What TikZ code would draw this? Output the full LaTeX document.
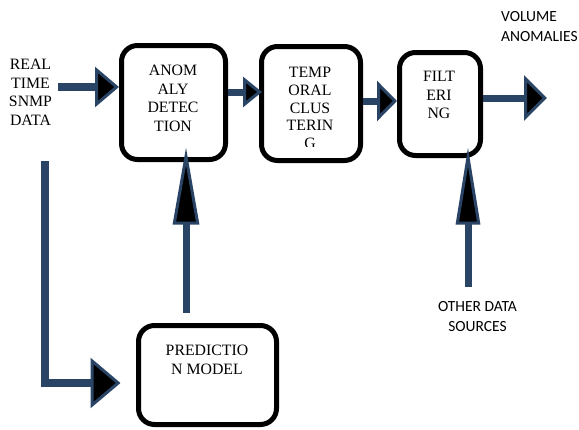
\documentclass[tikz,border=0pt]{standalone}
\usepackage{fontspec}
\setmainfont{Liberation Serif}
\newfontfamily\calfont{Carlito}
\usetikzlibrary{arrows.meta}
\definecolor{navy}{HTML}{2A4466}
\begin{document}
\begin{tikzpicture}[x=1pt,y=-1pt,
  box/.style={draw=black, line width=5pt, rounded corners=16pt, fill=white, inner sep=0pt},
  lbl/.style={font=\fontsize{15.8}{18.5}\selectfont, align=center, inner sep=0pt, anchor=north},
  slbl/.style={font=\calfont\fontsize{15.5}{20}\selectfont, inner sep=0pt},
  conn/.style n args={3}{draw=navy, line width=#1,
     -{Triangle[length=#2, width=#3, fill=black, line width=3pt 0 0]}}]
\useasboundingbox (0,0) rectangle (579,429);

% boxes
\node[box, minimum width=104pt, minimum height=114pt] (anom) at (173.5,102.5) {};
\node[box, minimum width=99pt,  minimum height=114pt] (temp) at (311,103.5) {};
\node[box, minimum width=81pt,  minimum height=103pt] (filt) at (440,104) {};
\node[box, minimum width=138pt, minimum height=99pt]  (pred) at (207.5,375) {};

% texts
\node[lbl] (realT) at (30.5,59) {REAL\\TIME\\SNMP\\DATA};
\node[lbl] (anomT) at (173,65) {ANOM\\ALY\\DETEC\\TION};
\begin{scope}
  \clip (255,45) rectangle (368,146);
  \node[lbl, font=\fontsize{15.8}{17.8}\selectfont] (tempT) at (310,67) {TEMP\\ORAL\\CLUS\\TERIN\\G};
\end{scope}
\node[lbl] (filtT) at (439,71) {FILT\\ERI\\NG};
\node[lbl] (predT) at (207,345) {PREDICTIO\\N MODEL};
\node[slbl, anchor=north west, align=left] (vol) at (501,11) {VOLUME\\ANOMALIES};
\node[slbl, align=center] (other) at (477.5,317) {OTHER DATA\\SOURCES};

% connectors
\coordinate (r1) at (58,87);
\coordinate (out) at (547,98);
\coordinate (l0) at (45,161);
\draw[conn={8pt}{24pt}{40pt}] (r1) -- (r1 -| anom.west);
\draw[conn={7pt}{19pt}{30pt}, shorten >=-3pt] ([yshift=10.5pt]anom.east) -- ([yshift=11.5pt]temp.west);
\draw[conn={7pt}{20pt}{40pt}] ([yshift=2.5pt]temp.east) -- ([yshift=3pt]filt.west);
\draw[conn={7pt}{23pt}{45pt}] ([yshift=6pt]filt.east) -- (out);
\draw[conn={7pt}{77pt}{26pt}, shorten <=10.5pt, shorten >=-14.5pt] ([xshift=-21.5pt]pred.north) -- ([xshift=12.5pt]anom.south);
\draw[conn={7pt}{77pt}{24pt}, shorten >=-10.5pt] ([xshift=-9.5pt,yshift=15pt]other.north) -- ([xshift=28pt]filt.south);
\draw[conn={8pt}{30pt}{50pt}, shorten >=15.5pt] (l0) |- ([yshift=-8pt]pred.west);
\end{tikzpicture}
\end{document}
